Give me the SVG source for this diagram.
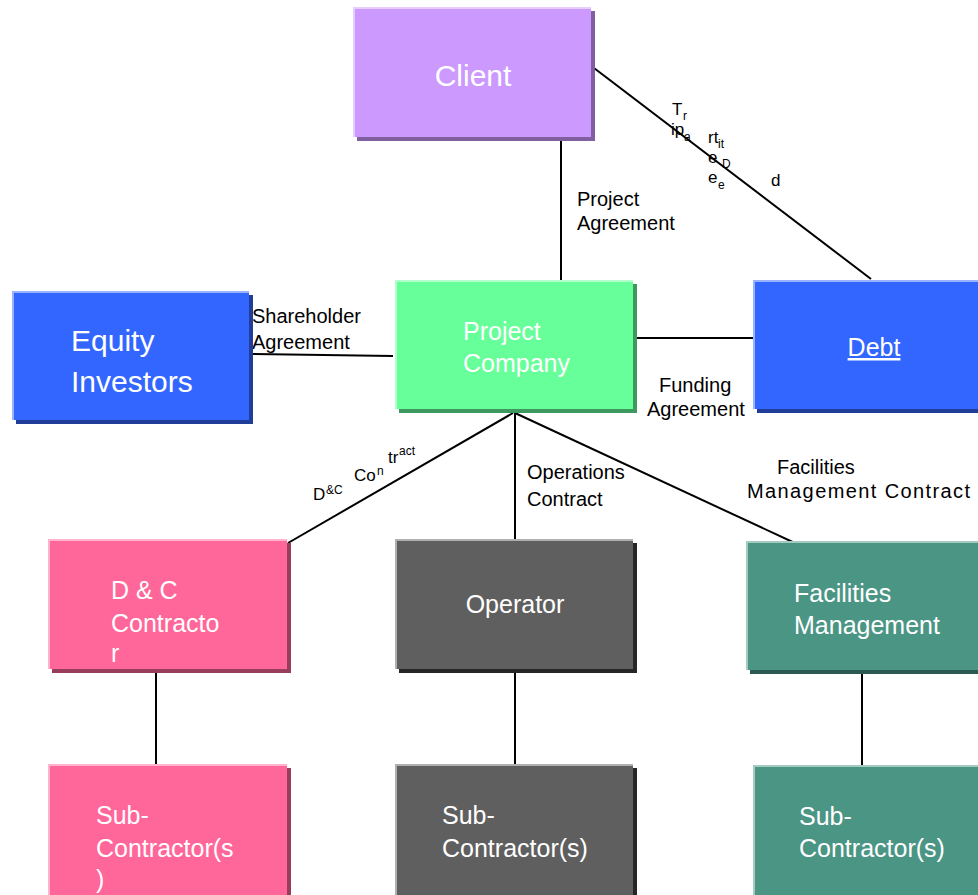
<svg xmlns="http://www.w3.org/2000/svg" width="978" height="895" viewBox="0 0 978 895">
<style>
text{font-family:"Liberation Sans",Arial,sans-serif}
.w{fill:#fff}
.b{fill:#000;font-size:20px}
.n25{font-size:25px}
.n30{font-size:30px}
.t{font-size:17px}
.s{font-size:12px}
.ln{stroke:#000;stroke-width:2;fill:none}
.hl{fill:none;stroke-width:2}
</style>
<rect width="978" height="895" fill="#fff"/>
<g id="connectors">
<line class="ln" x1="561" y1="141" x2="561" y2="280"/>
<line class="ln" x1="594" y1="68" x2="871" y2="279"/>
<line class="ln" x1="250" y1="354" x2="393" y2="356"/>
<line class="ln" x1="637" y1="338" x2="753" y2="338"/>
<line class="ln" x1="513" y1="413" x2="288" y2="543"/>
<line class="ln" x1="515" y1="413" x2="515" y2="539"/>
<line class="ln" x1="515" y1="413" x2="797" y2="544"/>
<line class="ln" x1="156" y1="673" x2="156" y2="764"/>
<line class="ln" x1="515" y1="673" x2="515" y2="764"/>
<line class="ln" x1="862" y1="674" x2="862" y2="765"/>
<text class="b" x="577" y="206">Project</text>
<text class="b" x="577" y="230">Agreement</text>
<text class="b" x="252" y="323">Shareholder</text>
<text class="b" x="252" y="349">Agreement</text>
<text class="b" x="659" y="392">Funding</text>
<text class="b" x="647" y="416">Agreement</text>
<text class="b" x="527" y="479">Operations</text>
<text class="b" x="527" y="506">Contract</text>
<text class="b" x="777" y="474">Facilities</text>
<text class="b" x="747" y="498" textLength="223" lengthAdjust="spacing">Management Contract</text>
<text class="t" x="313" y="500">D</text><text class="s" x="326" y="494">&amp;C</text>
<text class="t" x="354" y="481">Co</text><text class="s" x="377" y="475">n</text>
<text class="t" x="388" y="463">tr</text><text class="s" x="399" y="455">act</text>
<text class="t" x="672" y="115">T</text><text class="s" x="683" y="120">r</text>
<text class="t" x="671" y="135">ip</text><text class="s" x="684" y="141">a</text>
<text class="t" x="708" y="143">rt</text><text class="s" x="718" y="148">it</text>
<text class="t" x="708" y="163">e</text><text class="s" x="722" y="168">D</text>
<text class="t" x="708" y="183">e</text><text class="s" x="718" y="189">e</text>
<text class="t" x="771" y="186">d</text>
</g>
<g id="client">
<rect x="357" y="11" width="238" height="130" fill="#7f5f9f"/>
<rect x="353" y="7" width="238" height="130" fill="#cc99ff"/>
<polyline class="hl" points="354,137 354,8 591,8" stroke="#e6ccff"/>
<text class="w n30" x="473" y="86" text-anchor="middle">Client</text>
</g>
<g id="equity">
<rect x="16" y="295" width="237" height="129" fill="#1f3d99"/>
<rect x="12" y="291" width="237" height="129" fill="#3366ff"/>
<polyline class="hl" points="13,420 13,292 249,292" stroke="#99b3ff"/>
<text class="w n30" x="71" y="351">Equity</text>
<text class="w n30" x="71" y="392">Investors</text>
</g>
<g id="project-company">
<rect x="399" y="284" width="238" height="129" fill="#3d9960"/>
<rect x="395" y="280" width="238" height="129" fill="#66ff99"/>
<polyline class="hl" points="396,409 396,281 633,281" stroke="#b3ffcc"/>
<text class="w n25" x="463" y="340">Project</text>
<text class="w n25" x="463" y="372">Company</text>
</g>
<g id="debt">
<rect x="757" y="284" width="240" height="129" fill="#1f3d99"/>
<rect x="753" y="280" width="240" height="129" fill="#3366ff"/>
<polyline class="hl" points="754,409 754,281 990,281" stroke="#99b3ff"/>
<text class="w n25" x="874" y="356" text-anchor="middle" text-decoration="underline">Debt</text>
</g>
<g id="dc-contractor">
<rect x="52" y="543" width="239" height="130" fill="#993d5c"/>
<rect x="48" y="539" width="239" height="130" fill="#ff6699"/>
<polyline class="hl" points="49,669 49,540 287,540" stroke="#ffb3cc"/>
<text class="w n25" x="111" y="599">D &amp; C</text>
<text class="w n25" x="111" y="632">Contracto</text>
<text class="w n25" x="111" y="662">r</text>
</g>
<g id="operator">
<rect x="399" y="543" width="238" height="130" fill="#262626"/>
<rect x="395" y="539" width="238" height="130" fill="#5f5f5f"/>
<polyline class="hl" points="396,669 396,540 633,540" stroke="#afafaf"/>
<text class="w n25" x="515" y="613" text-anchor="middle">Operator</text>
</g>
<g id="facilities-management">
<rect x="750" y="545" width="240" height="129" fill="#2a5a50"/>
<rect x="746" y="541" width="240" height="129" fill="#4b9585"/>
<polyline class="hl" points="747,670 747,542 986,542" stroke="#a5cac2"/>
<text class="w n25" x="794" y="602">Facilities</text>
<text class="w n25" x="794" y="634">Management</text>
</g>
<g id="sub-dc">
<rect x="52" y="768" width="239" height="140" fill="#993d5c"/>
<rect x="48" y="764" width="239" height="140" fill="#ff6699"/>
<polyline class="hl" points="49,904 49,765 287,765" stroke="#ffb3cc"/>
<text class="w n25" x="96" y="824">Sub-</text>
<text class="w n25" x="96" y="857">Contractor(s</text>
<text class="w n25" x="96" y="888">)</text>
</g>
<g id="sub-operator">
<rect x="399" y="768" width="238" height="140" fill="#262626"/>
<rect x="395" y="764" width="238" height="140" fill="#5f5f5f"/>
<polyline class="hl" points="396,904 396,765 633,765" stroke="#afafaf"/>
<text class="w n25" x="442" y="824">Sub-</text>
<text class="w n25" x="442" y="857">Contractor(s)</text>
</g>
<g id="sub-fm">
<rect x="757" y="769" width="240" height="140" fill="#2a5a50"/>
<rect x="753" y="765" width="240" height="140" fill="#4b9585"/>
<polyline class="hl" points="754,905 754,766 993,766" stroke="#a5cac2"/>
<text class="w n25" x="799" y="825">Sub-</text>
<text class="w n25" x="799" y="857">Contractor(s)</text>
</g>
</svg>
